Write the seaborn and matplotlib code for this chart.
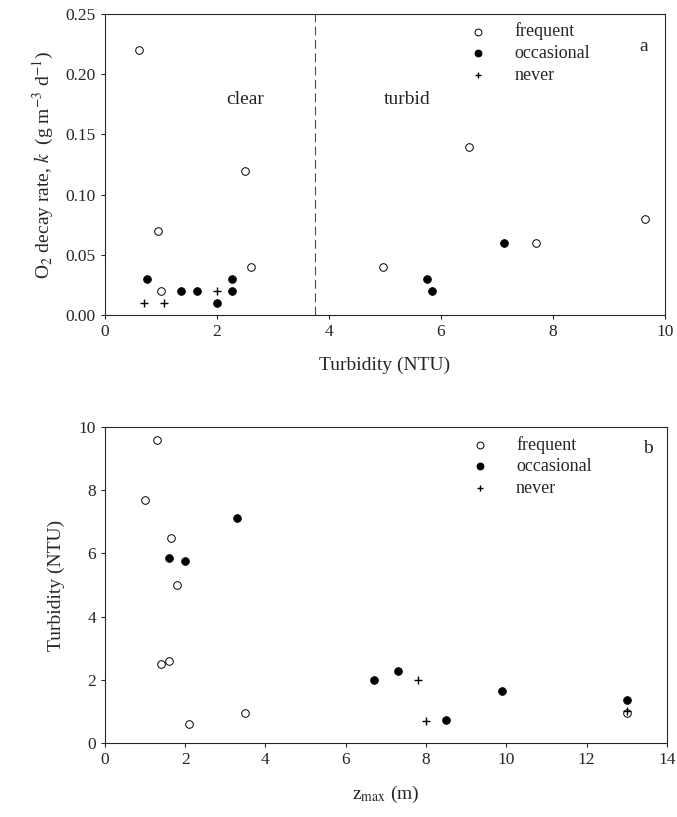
import matplotlib
matplotlib.use("Agg")
import matplotlib.pyplot as plt
import seaborn as sns
import pandas as pd

# panel a: turbidity vs O2 decay rate
a_freq_x = [0.6, 0.95, 1.0, 2.5, 2.6, 4.97, 6.5, 7.7, 9.65]
a_freq_y = [0.22, 0.07, 0.02, 0.12, 0.04, 0.04, 0.14, 0.06, 0.08]
a_occ_x = [0.75, 1.35, 1.65, 2.0, 2.27, 2.27, 5.75, 5.85, 7.13]
a_occ_y = [0.03, 0.02, 0.02, 0.01, 0.03, 0.02, 0.03, 0.02, 0.06]
a_never_x = [0.7, 1.05, 2.0]
a_never_y = [0.01, 0.01, 0.02]

# panel b: zmax vs turbidity
b_freq_x = [1.3, 1.0, 1.65, 1.8, 1.4, 1.6, 2.1, 3.5, 13.0]
b_freq_y = [9.6, 7.7, 6.5, 5.0, 2.5, 2.6, 0.6, 0.95, 0.95]
b_occ_x = [1.6, 2.0, 3.3, 6.7, 7.3, 8.5, 9.9, 13.0]
b_occ_y = [5.85, 5.75, 7.13, 2.0, 2.27, 0.72, 1.65, 1.35]
b_never_x = [7.8, 8.0, 13.0]
b_never_y = [2.0, 0.7, 1.0]

sns.set_style("ticks")
plt.rcParams['font.family'] = ['Liberation Serif', 'DejaVu Serif']
plt.rcParams['mathtext.fontset'] = 'stix'

fig = plt.figure(figsize=(6.77, 8.17), dpi=100)
ax1 = fig.add_axes([0.155, 0.614, 0.827, 0.369])
ax2 = fig.add_axes([0.155, 0.091, 0.830, 0.386])


def draw(ax, fx, fy, ox, oy, nx, ny):
    sns.scatterplot(x=fx, y=fy, ax=ax, marker='o', s=30, facecolor='white',
                    edgecolor='black', linewidth=0.7, label='frequent', zorder=3)
    sns.scatterplot(x=ox, y=oy, ax=ax, marker='o', s=30, color='black',
                    edgecolor='black', linewidth=0.7, label='occasional', zorder=3)
    sns.scatterplot(x=nx, y=ny, ax=ax, marker='+', s=30, color='black',
                    linewidth=1.0, label='never', zorder=4)
    for sp in ax.spines.values():
        sp.set_visible(True)
        sp.set_linewidth(0.8)
    ax.tick_params(direction='out', length=3, width=0.8, labelsize=12.5)
    leg = ax.legend(loc='upper right', bbox_to_anchor=(0.895, 1.025), frameon=False,
                    fontsize=13, handletextpad=1.0, labelspacing=0.25, markerscale=0.9)
    return leg


draw(ax1, a_freq_x, a_freq_y, a_occ_x, a_occ_y, a_never_x, a_never_y)
ax1.axvline(3.75, color='0.3', linestyle=(0, (8, 4)), linewidth=0.8)
ax1.set_xlim(0, 10)
ax1.set_ylim(0, 0.25)
ax1.set_xticks([0, 2, 4, 6, 8, 10])
ax1.set_yticks([0, 0.05, 0.10, 0.15, 0.20, 0.25])
ax1.set_yticklabels(['0.00', '0.05', '0.10', '0.15', '0.20', '0.25'])
ax1.text(2.5, 0.175, 'clear', fontsize=14, ha='center')
ax1.text(5.4, 0.175, 'turbid', fontsize=14, ha='center')
ax1.text(9.55, 0.219, 'a', fontsize=14)
ax1.set_xlabel('Turbidity (NTU)', fontsize=14, labelpad=12)
ax1.set_ylabel(r'O$_2$ decay rate, $k$  (g m$^{-3}$ d$^{-1}$)', fontsize=14, labelpad=7)

draw(ax2, b_freq_x, b_freq_y, b_occ_x, b_occ_y, b_never_x, b_never_y)
ax2.set_xlim(0, 14)
ax2.set_ylim(0, 10)
ax2.set_xticks([0, 2, 4, 6, 8, 10, 12, 14])
ax2.set_yticks([0, 2, 4, 6, 8, 10])
ax2.text(13.4, 9.2, 'b', fontsize=14)
ax2.set_xlabel(r'z$_{\mathrm{max}}$ (m)', fontsize=14, labelpad=12)
ax2.set_ylabel('Turbidity (NTU)', fontsize=14, labelpad=10)

fig.savefig('out.png', dpi=100)
